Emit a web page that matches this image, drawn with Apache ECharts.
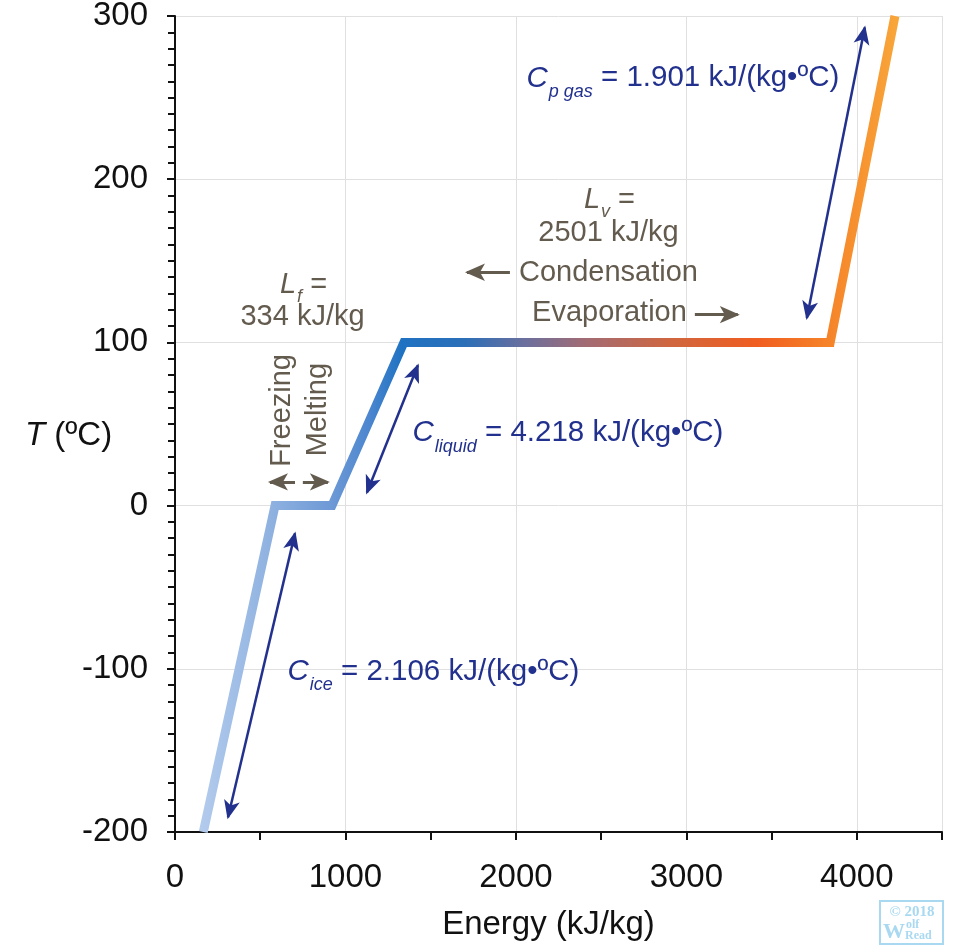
<!DOCTYPE html>
<html>
<head>
<meta charset="utf-8">
<title>Heating curve of water</title>
<script src="https://cdn.jsdelivr.net/npm/echarts@6/dist/echarts.min.js"></script>
<style>
  html, body { margin: 0; padding: 0; background: #fff; }
  #main { width: 953px; height: 948px; }
</style>
</head>
<body>
<div id="main"></div>
<script>
// heating curve: energy added (kJ/kg) vs temperature (C)
let energy = [166, 587, 921, 1343, 3844, 4224];
let temperature = [-200, 0, 0, 100, 100, 300];

// double headed arrows next to the sloped parts, [[E, T], [E, T]]
let iceArrow = [[311, -191], [704, -17]];
let liquidArrow = [[1126, 8], [1425, 86]];
let gasArrow = [[3707, 115], [4047, 293]];

// one way arrows for the phase changes, [from, to]
let freezeArrow = [[704, 14.5], [557, 14.5]];
let meltArrow = [[750, 14.5], [897, 14.5]];
let condenseArrow = [[1965, 143], [1713, 143]];
let evapArrow = [[3050, 117], [3302, 117]];

const FONT = '"Liberation Sans", Arial, Helvetica, sans-serif';
const SERIF = '"Liberation Serif", "DejaVu Serif", serif';
const NAVY = '#22318e';
const BROWN = '#645b4f';
const INK = '#111';
const MARK = '#a9d9f1';

// text notes, anchored in data units
let notes = [
    {value: [757, 135], text: '{li|L}{ls|f} =', label: {color: BROWN, align: 'center'}},
    {value: [751, 115], text: '334 kJ/kg', label: {color: BROWN, align: 'center'}},
    {value: [2552, 187], text: '{li|L}{ls|v} =', label: {color: BROWN, align: 'center'}},
    {value: [2546, 167], text: '2501 kJ/kg', label: {color: BROWN, align: 'center'}},
    {value: [2546, 142], text: 'Condensation', label: {color: BROWN, align: 'center'}},
    {value: [2552, 118], text: 'Evaporation', label: {color: BROWN, align: 'center'}},
    {value: [628, 58], text: 'Freezing', label: {color: BROWN, align: 'center', rotate: 90}},
    {value: [839, 58.5], text: 'Melting', label: {color: BROWN, align: 'center', rotate: 90}},
    {value: [2065, 261.5], text: '{ci|C}{cs|p gas} = 1.901 kJ/(kg•ºC)', label: {color: NAVY, align: 'left', fontSize: 29.5}},
    {value: [1396, 44], text: '{ci|C}{cs|liquid} = 4.218 kJ/(kg•ºC)', label: {color: NAVY, align: 'left', fontSize: 29.5}},
    {value: [663, -102], text: '{ci|C}{cs|ice} = 2.106 kJ/(kg•ºC)', label: {color: NAVY, align: 'left', fontSize: 29.5}}
];

let pair = (a, size) => [
    {coord: a[0], symbolSize: size, symbolOffset: [0, -2]},
    {coord: a[1], symbolSize: size, symbolOffset: [0, -2]}
];

let heat = {
    type: 'linear', x: 0, y: 0, x2: 1, y2: 0,
    colorStops: [
        {offset: 0, color: '#b4cced'},
        {offset: 0.104, color: '#8eb1e0'},
        {offset: 0.186, color: '#6f9ad6'},
        {offset: 0.242, color: '#4d87cf'},
        {offset: 0.29, color: '#1f72c2'},
        {offset: 0.378, color: '#2a6fb8'},
        {offset: 0.464, color: '#6a6f9e'},
        {offset: 0.551, color: '#a26b74'},
        {offset: 0.674, color: '#d0663f'},
        {offset: 0.797, color: '#f05d20'},
        {offset: 0.906, color: '#f6862a'},
        {offset: 1, color: '#f8a73a'}
    ]
};

let option = {
    animation: false,
    textStyle: {fontFamily: FONT},
    grid: {left: 175, top: 16, width: 767, height: 816, outerBoundsMode: 'none'},
    xAxis: [
        {
            type: 'value', min: 0, max: 4500, interval: 500,
            name: 'Energy (kJ/kg)', nameLocation: 'middle', nameGap: 76,
            nameTextStyle: {fontSize: 33, color: INK, fontFamily: FONT, padding: [0, 20, 0, 0]},
            axisLine: {onZero: false, lineStyle: {color: INK, width: 2}},
            axisTick: {show: true, length: 8, lineStyle: {color: INK, width: 2}},
            axisLabel: {fontSize: 33, color: INK, margin: 29, fontFamily: FONT,
                formatter: v => (v % 1000 === 0 ? String(v) : '')},
            splitLine: {show: false}
        },
        {
            type: 'value', min: 0, max: 4500, interval: 1000, position: 'bottom',
            axisLine: {show: false}, axisTick: {show: false}, axisLabel: {show: false},
            splitLine: {show: true, lineStyle: {color: '#e0e0e0', width: 1}}
        }
    ],
    yAxis: {
        type: 'value', min: -200, max: 300, interval: 100,
        axisLine: {show: true, onZero: false, lineStyle: {color: INK, width: 2}},
        axisTick: {show: true, length: 8, lineStyle: {color: INK, width: 2}},
        minorTick: {show: true, splitNumber: 10, length: 7, lineStyle: {color: INK, width: 2}},
        axisLabel: {fontSize: 33, color: INK, margin: 27, fontFamily: FONT},
        splitLine: {show: true, lineStyle: {color: '#e0e0e0', width: 1}}
    },
    series: [
        {
            type: 'line',
            data: energy.map((e, i) => [e, temperature[i]]),
            symbol: 'none',
            silent: true,
            z: 3,
            lineStyle: {width: 9, color: heat, join: 'miter', cap: 'butt'}
        },
        {
            type: 'line', data: [], silent: true, z: 4,
            markLine: {
                silent: true, animation: false,
                symbol: ['arrow', 'arrow'],
                symbolSize: [12, 19],
                label: {show: false},
                emphasis: {disabled: true},
                lineStyle: {color: NAVY, width: 2.5, type: 'solid', opacity: 1},
                data: [pair(iceArrow, [12, 19]), pair(liquidArrow, [12, 19]), pair(gasArrow, [12, 19])]
            }
        },
        {
            type: 'line', data: [], silent: true, z: 4,
            markLine: {
                silent: true, animation: false,
                symbol: ['none', 'arrow'],
                symbolSize: [13, 20],
                label: {show: false},
                emphasis: {disabled: true},
                lineStyle: {color: BROWN, width: 3, type: 'solid', opacity: 1},
                data: [pair(freezeArrow, [13, 20]), pair(meltArrow, [13, 20]),
                    pair(condenseArrow, [13, 20]), pair(evapArrow, [13, 20])]
            }
        },
        {
            type: 'scatter', silent: true, z: 5,
            symbolSize: 1,
            itemStyle: {color: 'transparent'},
            emphasis: {disabled: true},
            data: notes,
            label: {
                show: true,
                position: [0, 0],
                verticalAlign: 'middle',
                fontSize: 29,
                fontFamily: FONT,
                opacity: 1,
                textBorderWidth: 0,
                textBorderColor: 'transparent',
                formatter: p => p.data.text,
                rich: {
                    ci: {fontSize: 29.5, fontStyle: 'italic', color: NAVY, fontFamily: FONT},
                    cs: {fontSize: 18, fontStyle: 'italic', color: NAVY, fontFamily: FONT, lineHeight: 18, padding: [27, 0, 0, 1]},
                    li: {fontSize: 29, fontStyle: 'italic', color: BROWN, fontFamily: FONT},
                    ls: {fontSize: 18, fontStyle: 'italic', color: BROWN, fontFamily: FONT, lineHeight: 18, padding: [25, 0, 0, 1]}
                }
            }
        }
    ],
    graphic: [
        {
            type: 'text', x: 25, y: 436, silent: true,
            style: {
                text: '{t|T} (ºC)', fill: INK, fontSize: 33, fontFamily: FONT, verticalAlign: 'middle',
                rich: {t: {fontStyle: 'italic', fontSize: 33, fontFamily: FONT}}
            }
        },
        // watermark box
        {
            type: 'group', x: 880, y: 901, silent: true,
            children: [
                {type: 'rect', shape: {x: 0, y: 0, width: 63, height: 43},
                    style: {fill: 'none', stroke: MARK, lineWidth: 2}},
                {type: 'text', x: 32, y: 11, style: {text: '© 2018', fill: MARK, fontSize: 15, fontWeight: 'bold',
                    fontFamily: SERIF, align: 'center', verticalAlign: 'middle'}},
                {type: 'text', x: 3, y: 31, style: {text: 'W', fill: MARK, fontSize: 22, fontWeight: 'bold',
                    fontFamily: SERIF, verticalAlign: 'middle'}},
                {type: 'text', x: 26, y: 24, style: {text: 'olf', fill: MARK, fontSize: 12, fontWeight: 'bold',
                    fontFamily: SERIF, verticalAlign: 'middle'}},
                {type: 'text', x: 25, y: 35, style: {text: 'Read', fill: MARK, fontSize: 12, fontWeight: 'bold',
                    fontFamily: SERIF, verticalAlign: 'middle'}}
            ]
        }
    ]
};

let myChart = echarts.init(document.getElementById('main'));
myChart.setOption(option);
</script>
</body>
</html>
